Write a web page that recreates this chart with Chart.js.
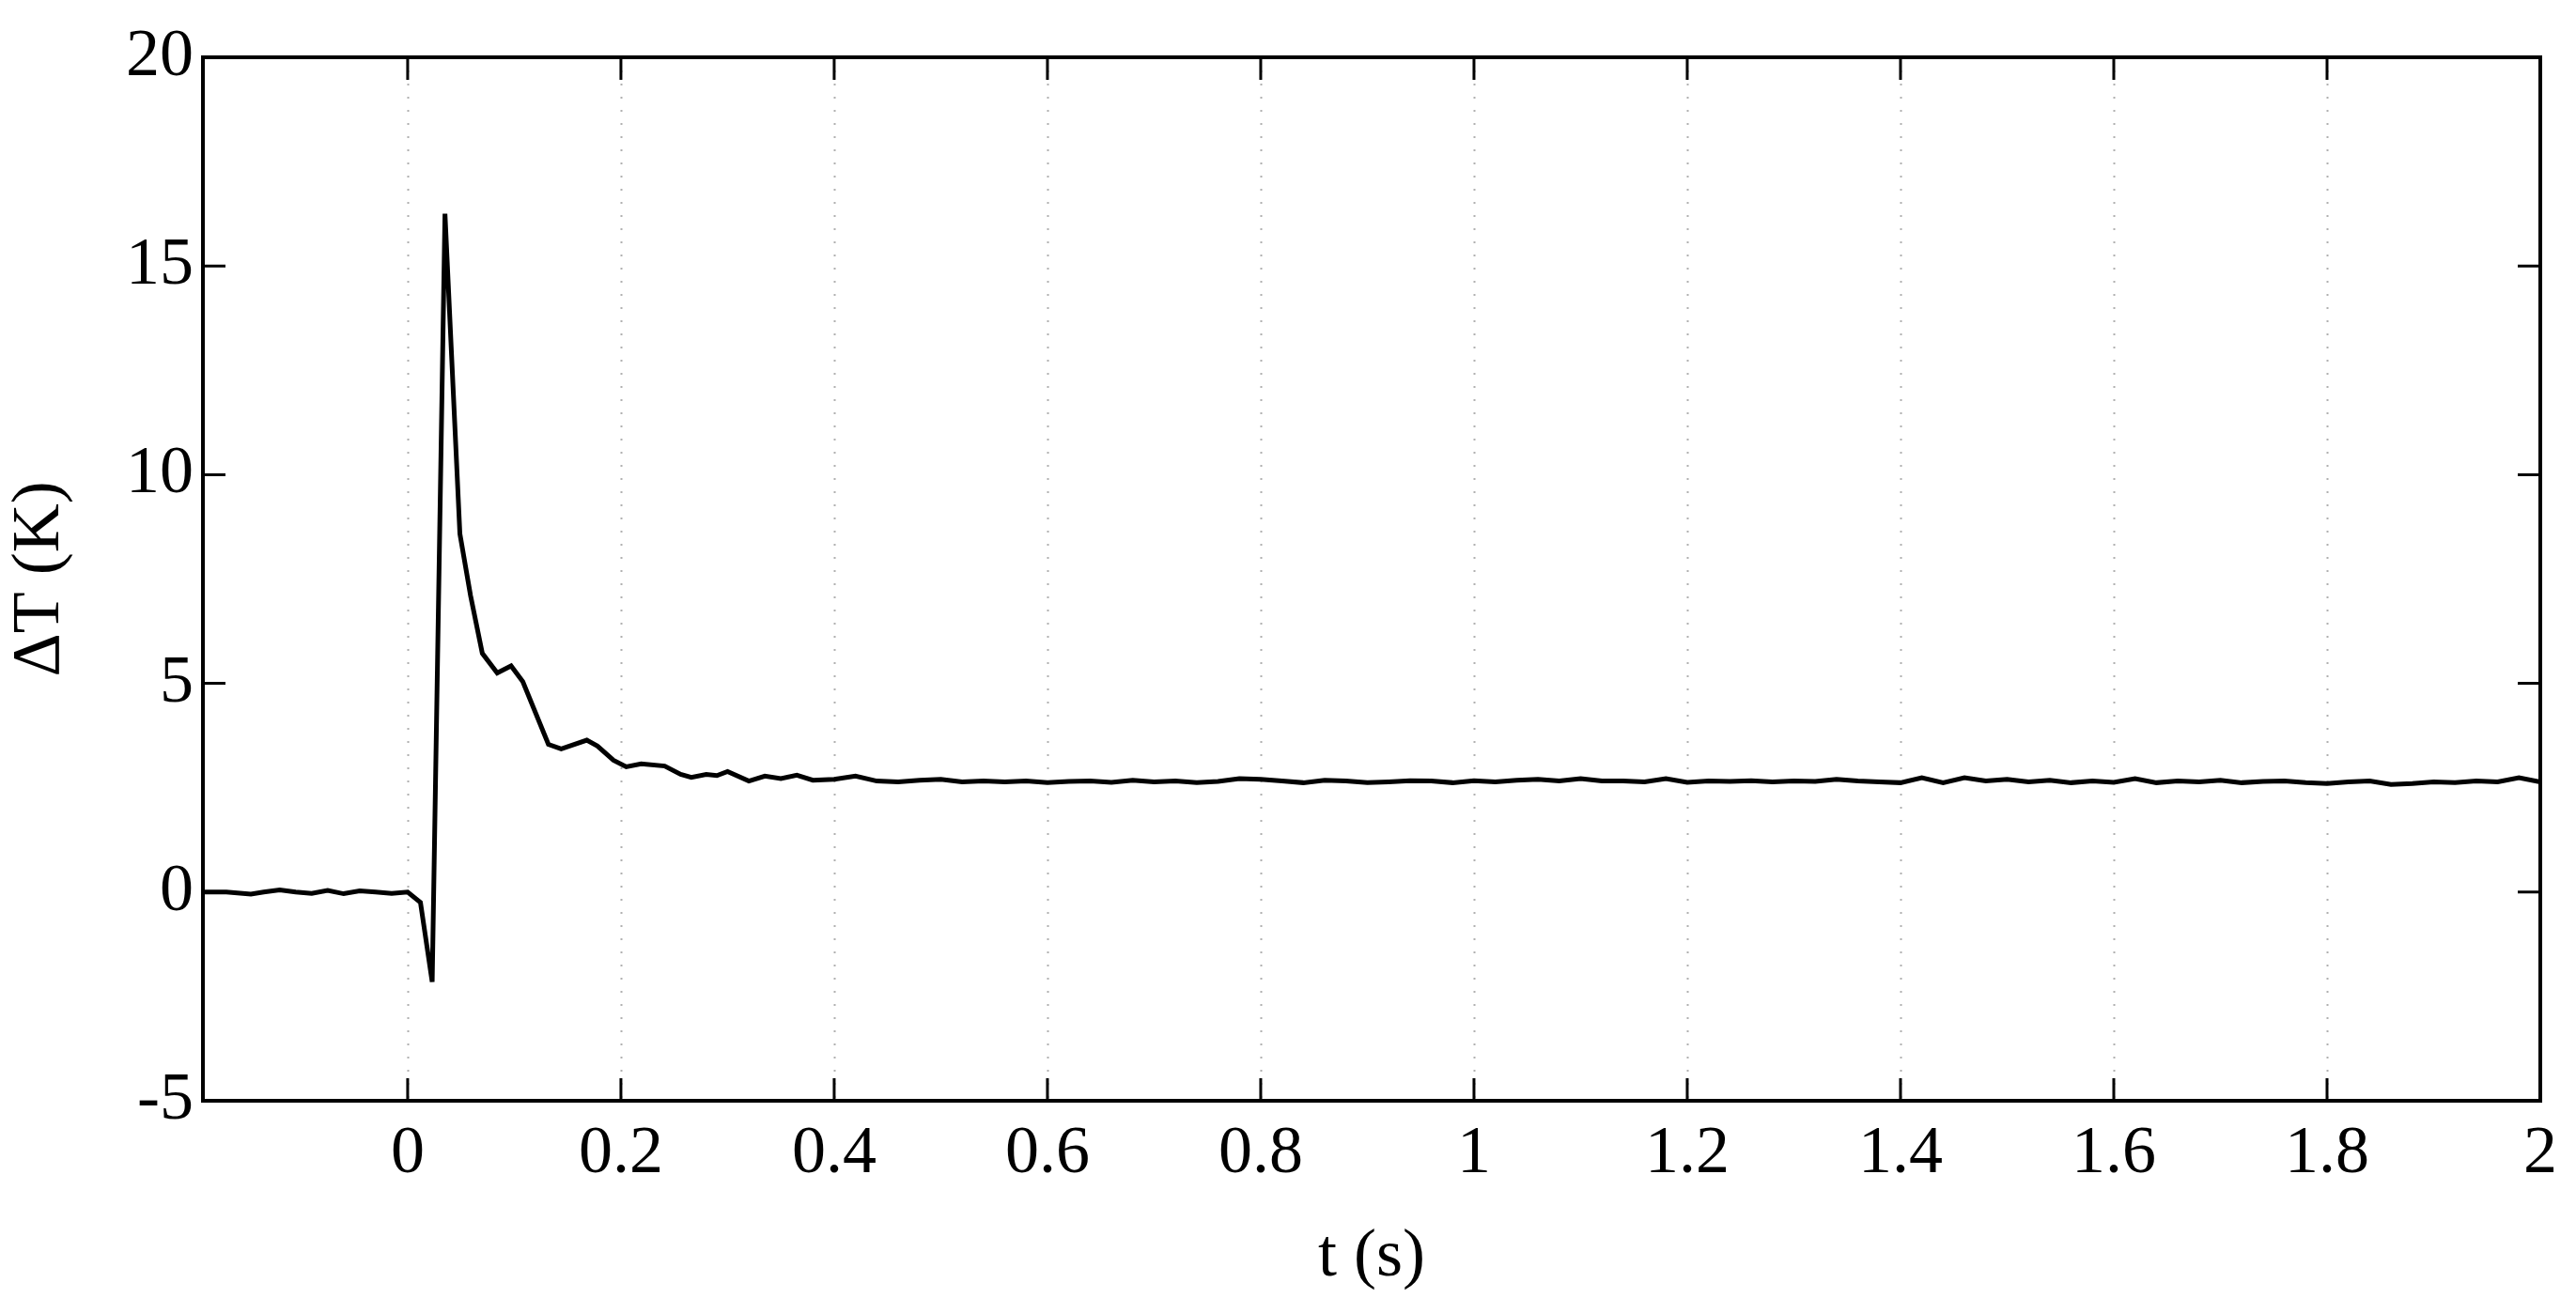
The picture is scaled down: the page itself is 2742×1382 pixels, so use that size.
<!DOCTYPE html>
<html>
<head>
<meta charset="utf-8">
<script src="https://cdn.jsdelivr.net/npm/chart.js@4.4.1/dist/chart.umd.min.js"></script>
<style>
  html, body { margin: 0; padding: 0; background: #fff; }
  #wrap { width: 2742px; height: 1382px; }
</style>
</head>
<body>
<div id="wrap"><canvas id="c" width="2742" height="1382"></canvas></div>
<script>
// time (s) and temperature change (K)
const times = [
  -0.192, -0.17, -0.147, -0.135, -0.12, -0.105, -0.09, -0.075, -0.06, -0.045, -0.03, -0.015, 0,
  0.012, 0.023, 0.035, 0.049, 0.059, 0.070, 0.084, 0.097, 0.108, 0.132, 0.144, 0.168, 0.178,
  0.193, 0.205, 0.219, 0.241, 0.256, 0.266, 0.28, 0.29, 0.30, 0.32, 0.335, 0.35, 0.365, 0.38,
  0.40, 0.42, 0.44, 0.46, 0.48, 0.50, 0.52, 0.54, 0.56, 0.58, 0.60, 0.62, 0.64, 0.66, 0.68,
  0.70, 0.72, 0.74, 0.76, 0.78, 0.80, 0.82, 0.84, 0.86, 0.88, 0.90, 0.92, 0.94, 0.96, 0.98,
  1.00, 1.02, 1.04, 1.06, 1.08, 1.10, 1.12, 1.14, 1.16, 1.18, 1.20, 1.22, 1.24, 1.26, 1.28,
  1.30, 1.32, 1.34, 1.36, 1.38, 1.40, 1.42, 1.44, 1.46, 1.48, 1.50, 1.52, 1.54, 1.56, 1.58,
  1.60, 1.62, 1.64, 1.66, 1.68, 1.70, 1.72, 1.74, 1.76, 1.78, 1.80, 1.82, 1.84, 1.86, 1.88,
  1.90, 1.92, 1.94, 1.96, 1.98, 2.00
];
const deltaT = [
  0.0, 0.0, -0.05, 0.0, 0.05, 0.0, -0.03, 0.04, -0.04, 0.03, 0.0, -0.03, 0.0,
  -0.25, -2.15, 16.25, 8.58, 7.1, 5.72, 5.25, 5.42, 5.04, 3.54, 3.43, 3.64, 3.5,
  3.16, 3.0, 3.07, 3.02, 2.82, 2.75, 2.82, 2.79, 2.89, 2.66, 2.78, 2.72, 2.8, 2.68,
  2.7, 2.78, 2.66, 2.64, 2.68, 2.7, 2.64, 2.66, 2.64, 2.66, 2.62, 2.65, 2.66, 2.63, 2.68,
  2.64, 2.66, 2.62, 2.65, 2.72, 2.7, 2.66, 2.62, 2.68, 2.66, 2.62, 2.64, 2.67, 2.66, 2.62,
  2.67, 2.64, 2.68, 2.7, 2.66, 2.72, 2.66, 2.66, 2.64, 2.72, 2.63, 2.66, 2.65, 2.67, 2.64,
  2.66, 2.65, 2.7, 2.66, 2.64, 2.62, 2.74, 2.62, 2.74, 2.66, 2.7, 2.64, 2.68, 2.62, 2.66,
  2.63, 2.72, 2.62, 2.66, 2.64, 2.68, 2.62, 2.65, 2.66, 2.62, 2.6, 2.64, 2.66, 2.58, 2.6,
  2.64, 2.62, 2.66, 2.64, 2.74, 2.64
];
const xTicks = [0, 0.2, 0.4, 0.6, 0.8, 1, 1.2, 1.4, 1.6, 1.8, 2];
const yTicks = [-5, 0, 5, 10, 15, 20];

const FONT = "'Liberation Serif', 'DejaVu Serif', serif";
const TICK_LEN = 24;

// MATLAB-style box, inward ticks on all sides and dotted x grid
const boxPlugin = {
  id: 'box',
  beforeDatasetsDraw(chart) {
    const { ctx, chartArea: a, scales } = chart;
    ctx.save();
    ctx.strokeStyle = '#b0b0b0';
    ctx.lineWidth = 2;
    ctx.setLineDash([2, 12]);
    xTicks.forEach(v => {
      const x = Math.round(scales.x.getPixelForValue(v)) + 0.5;
      ctx.beginPath(); ctx.moveTo(x, a.top); ctx.lineTo(x, a.bottom); ctx.stroke();
    });
    ctx.restore();
  },
  afterDatasetsDraw(chart) {
    const { ctx, chartArea: a, scales } = chart;
    ctx.save();
    ctx.strokeStyle = '#000';
    ctx.lineWidth = 4;
    ctx.setLineDash([]);
    ctx.strokeRect(a.left, a.top, a.right - a.left, a.bottom - a.top);
    ctx.lineWidth = 3;
    ctx.beginPath();
    xTicks.forEach(v => {
      const x = scales.x.getPixelForValue(v);
      ctx.moveTo(x, a.bottom); ctx.lineTo(x, a.bottom - TICK_LEN);
      ctx.moveTo(x, a.top); ctx.lineTo(x, a.top + TICK_LEN);
    });
    yTicks.forEach(v => {
      const y = scales.y.getPixelForValue(v);
      ctx.moveTo(a.left, y); ctx.lineTo(a.left + TICK_LEN, y);
      ctx.moveTo(a.right, y); ctx.lineTo(a.right - TICK_LEN, y);
    });
    ctx.stroke();
    ctx.restore();
  }
};

new Chart(document.getElementById('c').getContext('2d'), {
  type: 'line',
  data: {
    datasets: [{
      data: times.map((t, i) => ({ x: t, y: deltaT[i] })),
      borderColor: '#000',
      borderWidth: 5,
      pointRadius: 0,
      tension: 0,
      fill: false
    }]
  },
  options: {
    responsive: false,
    animation: false,
    devicePixelRatio: 1,
    layout: { padding: { top: 61, right: 38, bottom: 0, left: 0 } },
    plugins: { legend: { display: false }, tooltip: { enabled: false } },
    scales: {
      x: {
        type: 'linear',
        min: -0.192,
        max: 2,
        afterBuildTicks: s => { s.ticks = xTicks.map(v => ({ value: v })); },
        afterFit: s => { s.height = 210; },
        grid: { display: false, drawTicks: false },
        border: { display: false },
        ticks: {
          color: '#000', padding: 14, maxRotation: 0, autoSkip: false,
          font: { family: FONT, size: 72 },
          callback: v => String(Math.round(v * 10) / 10)
        },
        title: {
          display: true, text: 't (s)', color: '#000', padding: { top: 0, bottom: 0 },
          font: { family: FONT, size: 72 }
        }
      },
      y: {
        type: 'linear',
        min: -5,
        max: 20,
        afterBuildTicks: s => { s.ticks = yTicks.map(v => ({ value: v })); },
        afterFit: s => { s.width = 216; },
        grid: { display: false, drawTicks: false },
        border: { display: false },
        ticks: {
          color: '#000', padding: 10,
          font: { family: FONT, size: 72 }
        },
        title: {
          display: true, text: 'ΔT (K)', color: '#000', padding: { top: 0, bottom: 0 },
          font: { family: FONT, size: 72 }
        }
      }
    }
  },
  plugins: [boxPlugin]
});
</script>
</body>
</html>
